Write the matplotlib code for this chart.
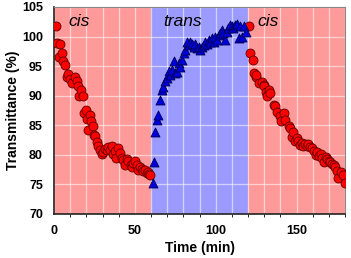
import numpy as np
import matplotlib
matplotlib.use("Agg")
import matplotlib.pyplot as plt

# Dados: primeira fase cis
t_cis1 = [1.0, 1.7, 2.9, 3.7, 5.0, 5.8, 6.8, 7.8, 8.9, 9.9, 11.0, 13.0, 14.0, 15.0,
          15.7, 16.5, 17.8, 18.6, 19.8, 20.6, 21.3, 22.3, 23.1, 23.9, 24.6, 25.4,
          26.4, 27.4, 28.5, 29.5, 30.5, 31.5, 32.6, 33.6, 34.7, 35.7, 36.7, 37.5,
          38.4, 39.8, 40.9, 41.9, 42.9, 44.0, 45.0, 46.0, 47.5, 48.3, 49.1, 50.2,
          51.2, 52.2, 53.3, 54.3, 55.3, 56.4, 57.4, 58.0, 59.0, 59.5]
v_cis1 = [101.7, 98.9, 96.6, 98.7, 97.2, 95.8, 95.2, 93.2, 93.7, 92.8, 92.1, 93.2, 92.5, 91.6,
          90.0, 91.0, 90.0, 87.0, 87.6, 86.0, 84.2, 86.7, 85.7, 84.9, 83.4, 83.1,
          82.2, 81.4, 80.8, 80.2, 80.5, 81.0, 80.8, 81.3, 80.8, 81.5, 80.2, 80.6,
          79.4, 81.1, 80.3, 79.5, 79.1, 78.3, 79.2, 78.9, 78.3, 78.0, 78.6, 78.9,
          78.3, 77.4, 77.9, 77.6, 77.2, 77.5, 76.9, 77.1, 76.8, 76.6]

# Fase trans
t_trans = [61.1, 61.9, 62.6, 63.6, 64.6, 65.6, 66.7, 67.7, 68.7, 69.7, 70.8, 71.8, 72.8,
           73.9, 74.9, 75.9, 77.0, 78.0, 79.1, 80.1, 81.1, 82.2, 83.2, 84.2, 85.2, 86.3,
           87.3, 88.3, 89.4, 90.4, 91.4, 92.5, 93.5, 94.5, 95.6, 96.6, 97.6, 98.7, 99.7,
           100.7, 101.8, 102.8, 103.8, 104.8, 105.9, 106.9, 107.9, 109.0, 110.0, 111.0,
           112.1, 113.1, 114.1, 115.1, 116.2, 117.2, 119.0]
v_trans = [75.2, 78.8, 83.8, 85.9, 86.7, 89.3, 91.0, 91.5, 92.4, 92.9, 94.1, 93.5, 94.4,
           95.8, 93.8, 94.0, 95.5, 94.9, 96.0, 97.2, 97.7, 99.1, 98.6, 99.1, 98.8, 98.3,
           98.8, 98.0, 98.3, 97.7, 98.3, 98.6, 99.1, 98.8, 99.4, 99.1, 99.7, 99.1, 99.9,
           99.4, 100.3, 100.6, 101.1, 100.6, 99.4, 100.8, 101.4, 102.0, 101.7, 101.4,
           102.0, 102.2, 99.7, 101.7, 99.9, 101.7, 100.8]

# Segunda fase cis
t_cis2 = [120.8, 121.4, 122.9, 123.5, 125.0, 125.2, 126.6, 128.6, 129.7, 130.1, 131.4,
          131.8, 132.8, 133.8, 135.9, 136.9, 137.9, 140.0, 140.6, 142.1, 143.1, 145.2,
          146.2, 147.0, 147.7, 148.9, 150.0, 151.1, 152.2, 153.3, 154.3, 155.3, 156.3,
          157.3, 158.3, 159.6, 160.7, 161.8, 162.8, 163.8, 164.9, 165.9, 167.0, 168.0,
          169.0, 170.0, 171.0, 172.0, 173.1, 174.1, 175.1, 175.8, 177.2, 178.6, 179.9]
v_cis2 = [101.8, 97.2, 96.0, 93.8, 93.1, 93.5, 92.2, 92.3, 91.8, 91.6, 90.7,
          90.0, 90.9, 90.4, 88.5, 88.2, 87.3, 86.6, 85.7, 87.1, 85.9, 84.9,
          84.5, 83.0, 83.9, 82.4, 82.8, 82.3, 81.7, 82.0, 81.5, 81.9, 81.4,
          81.8, 81.3, 81.1, 80.6, 80.0, 80.4, 79.8, 80.1, 79.5, 78.8, 79.7,
          79.2, 79.0, 78.7, 78.5, 78.2, 78.0, 77.2, 76.1, 77.0, 76.5, 75.3]

# Faixas de fundo (início, fim, cor) e rótulos com o início do texto
faixas = [(0, 60, "#ff9a9a"), (60, 120, "#9b9bff"), (120, 180, "#ff9a9a")]
rotulos = ["cis", "trans", "cis"]
x_rotulos = [8.7, 67.3, 125.8]

plt.rcParams["font.family"] = ["Liberation Sans", "DejaVu Sans"]

fig = plt.figure(figsize=(3.51, 2.58), dpi=100)
ax = fig.add_axes([0.154, 0.171, 0.829, 0.802])

for x0, x1, cor in faixas:
    ax.axvspan(x0, x1, color=cor, zorder=0, lw=0)
for xr, rotulo in zip(x_rotulos, rotulos):
    ax.text(xr, 102.6, rotulo, style="italic", fontsize=12.5, va="center", ha="left", zorder=5)

ax.set_xticks(np.arange(0, 181, 10), minor=True)
ax.set_yticks(np.arange(70, 106, 5))
ax.set_xticks([0, 50, 100, 150])
ax.grid(True, which="both", color="white", alpha=0.55, lw=0.9, zorder=1)
ax.set_axisbelow(True)

ax.scatter(t_cis1, v_cis1, s=42, c="#ff0000", edgecolors="#600000", linewidths=0.6, zorder=3)
ax.scatter(t_cis2, v_cis2, s=42, c="#ff0000", edgecolors="#600000", linewidths=0.6, zorder=3)
ax.scatter(t_trans, v_trans, s=42, marker="^", c="#0000dd", edgecolors="#000050", linewidths=0.6, zorder=3)

ax.set_xlim(0, 180)
ax.set_ylim(70, 105)
ax.tick_params(axis="x", length=0, labelsize=9, pad=8)
ax.tick_params(axis="y", length=0, labelsize=9, pad=8)
for lab in ax.get_xticklabels() + ax.get_yticklabels():
    lab.set_fontweight("bold")
ax.set_xlabel("Time (min)", fontsize=10, fontweight="bold", labelpad=3)
ax.set_ylabel("Transmittance (%)", fontsize=10, fontweight="bold", labelpad=1.5)

for lado in ["top", "right"]:
    ax.spines[lado].set_color("#888888")
for lado in ["left", "bottom"]:
    ax.spines[lado].set_color("#222222")
    ax.spines[lado].set_linewidth(1.2)

fig.savefig("out.png", dpi=100)
